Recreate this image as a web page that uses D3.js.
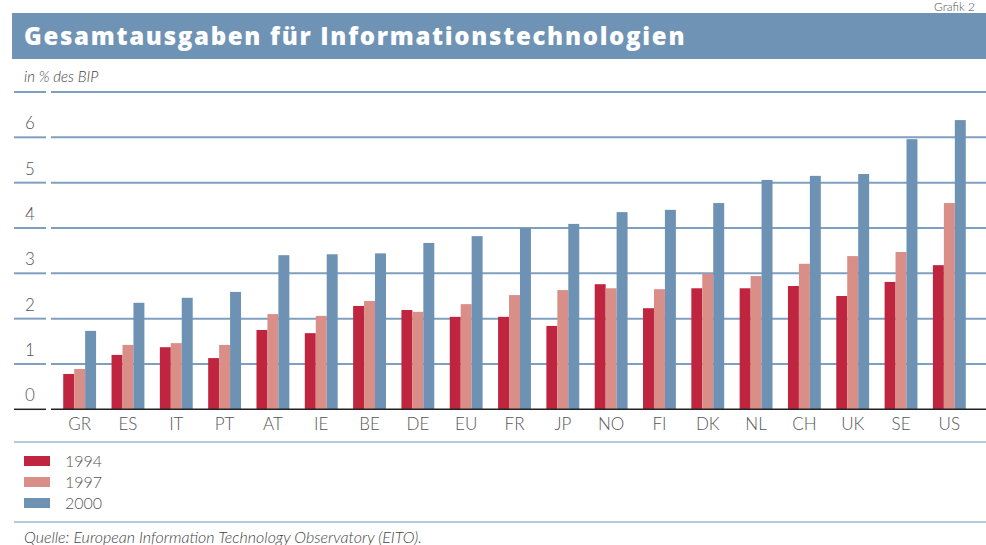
<!DOCTYPE html>
<html>
<head>
<meta charset="utf-8">
<script src="https://cdn.jsdelivr.net/npm/d3@7"></script>
<style>
  body { margin: 0; background: #fff; }
  svg { display: block; font-family: "Lato", "Open Sans", sans-serif; }
</style>
</head>
<body>
<script>
// Gesamtausgaben fuer IT, in % des BIP
var countries = ["GR","ES","IT","PT","AT","IE","BE","DE","EU","FR","JP","NO","FI","DK","NL","CH","UK","SE","US"];
var years = ["1994","1997","2000"];
var v1994 = [0.78,1.20,1.37,1.13,1.75,1.68,2.28,2.19,2.04,2.04,1.84,2.76,2.23,2.67,2.67,2.72,2.50,2.81,3.18];
var v1997 = [0.89,1.42,1.46,1.42,2.10,2.06,2.39,2.15,2.32,2.52,2.63,2.67,2.65,2.99,2.94,3.21,3.38,3.47,4.55];
var v2000 = [1.73,2.35,2.46,2.59,3.40,3.42,3.44,3.67,3.82,4.00,4.09,4.35,4.40,4.55,5.06,5.15,5.19,5.96,6.38];
var yTicks = [0,1,2,3,4,5,6];
var colors = ["#c0253f","#d98f88","#6d92b4"];

var width = 986, height = 545;
var svg = d3.select("body").append("svg")
    .attr("width", width)
    .attr("height", height);

// title bar
svg.append("rect")
    .attr("x", 12).attr("y", 13)
    .attr("width", width - 12).attr("height", 46)
    .attr("fill", "#6e93b5");
svg.append("text")
    .attr("x", 24).attr("y", 45)
    .attr("fill", "#fff")
    .style("font-family", "'Open Sans', sans-serif")
    .style("font-weight", 800)
    .style("font-size", "24px")
    .style("letter-spacing", "1.7px")
    .text("Gesamtausgaben für Informationstechnologien");
svg.append("text")
    .attr("x", 934).attr("y", 11)
    .attr("fill", "#555")
    .style("font-size", "12px")
    .style("font-weight", 300)
    .text("Grafik 2");

svg.append("text")
    .attr("x", 24).attr("y", 82)
    .attr("fill", "#444")
    .style("font-style", "italic")
    .style("font-weight", 300)
    .style("font-size", "15px")
    .text("in % des BIP");

// scales
var x = d3.scaleBand()
    .domain(countries)
    .range([55.5, 973.5])
    .paddingInner(0.32)
    .paddingOuter(0.16);
var xs = d3.scaleBand()
    .domain(years)
    .range([0, x.bandwidth()]);
var y = d3.scaleLinear()
    .domain([0, 7])
    .range([409.3, 92]);

// grid lines (including the top one at 7)
var gridVals = yTicks.slice(1).concat([7]);
var grid = svg.append("g");
gridVals.forEach(function(v) {
    grid.append("line").attr("x1", 14).attr("x2", 46)
        .attr("y1", y(v)).attr("y2", y(v));
    grid.append("line").attr("x1", 51).attr("x2", width)
        .attr("y1", y(v)).attr("y2", y(v));
});
grid.selectAll("line")
    .attr("stroke", "#7f9fc0")
    .attr("stroke-width", 2);

// tick labels
svg.append("g").selectAll("text")
    .data(yTicks)
    .enter().append("text")
    .attr("x", 30)
    .attr("y", function(d){ return y(d) - 8; })
    .attr("text-anchor", "middle")
    .attr("fill", "#555")
    .style("font-weight", 300)
    .style("font-size", "17px")
    .text(function(d){ return d; });

// bars
var series = [v1994, v1997, v2000];
var groups = svg.append("g").selectAll("g")
    .data(countries)
    .enter().append("g")
    .attr("transform", function(d){ return "translate(" + x(d) + ",0)"; });
groups.selectAll("rect")
    .data(function(d, i){ return years.map(function(yr, j){ return {year: yr, value: series[j][i], c: colors[j]}; }); })
    .enter().append("rect")
    .attr("x", function(d){ return xs(d.year); })
    .attr("width", xs.bandwidth())
    .attr("y", function(d){ return y(d.value); })
    .attr("height", function(d){ return y(0) - y(d.value); })
    .attr("fill", function(d){ return d.c; });

// baseline
svg.append("line").attr("x1", 14).attr("x2", 46)
    .attr("y1", y(0)).attr("y2", y(0))
    .attr("stroke", "#222").attr("stroke-width", 1.5);
svg.append("line").attr("x1", 51).attr("x2", width)
    .attr("y1", y(0)).attr("y2", y(0))
    .attr("stroke", "#222").attr("stroke-width", 1.5);

// x labels
var xAxis = svg.append("g")
    .attr("transform", "translate(0," + y(0) + ")")
    .call(d3.axisBottom(x).tickSize(0).tickPadding(9));
xAxis.select(".domain").remove();
xAxis.selectAll("text")
    .attr("fill", "#555")
    .style("font-family", "Lato, 'Open Sans', sans-serif")
    .style("font-weight", 300)
    .style("font-size", "17px");

// separators
svg.append("line").attr("x1", 14).attr("x2", width)
    .attr("y1", 442).attr("y2", 442)
    .attr("stroke", "#6e93b5").attr("stroke-width", 1.2);
svg.append("line").attr("x1", 14).attr("x2", width)
    .attr("y1", 522).attr("y2", 522)
    .attr("stroke", "#6e93b5").attr("stroke-width", 1.2);

// legend
var legend = svg.append("g").selectAll("g")
    .data(years)
    .enter().append("g")
    .attr("transform", function(d, i){ return "translate(24," + (456 + i * 21) + ")"; });
legend.append("rect")
    .attr("width", 26).attr("height", 10)
    .attr("fill", function(d, i){ return colors[i]; });
legend.append("text")
    .attr("x", 41).attr("y", 11)
    .attr("fill", "#555")
    .style("font-weight", 300)
    .style("font-size", "16px")
    .text(function(d){ return d; });

svg.append("text")
    .attr("x", 24).attr("y", 543)
    .attr("fill", "#444")
    .style("font-style", "italic")
    .style("font-weight", 300)
    .style("font-size", "16px")
    .text("Quelle: European Information Technology Observatory (EITO).");
</script>
</body>
</html>
